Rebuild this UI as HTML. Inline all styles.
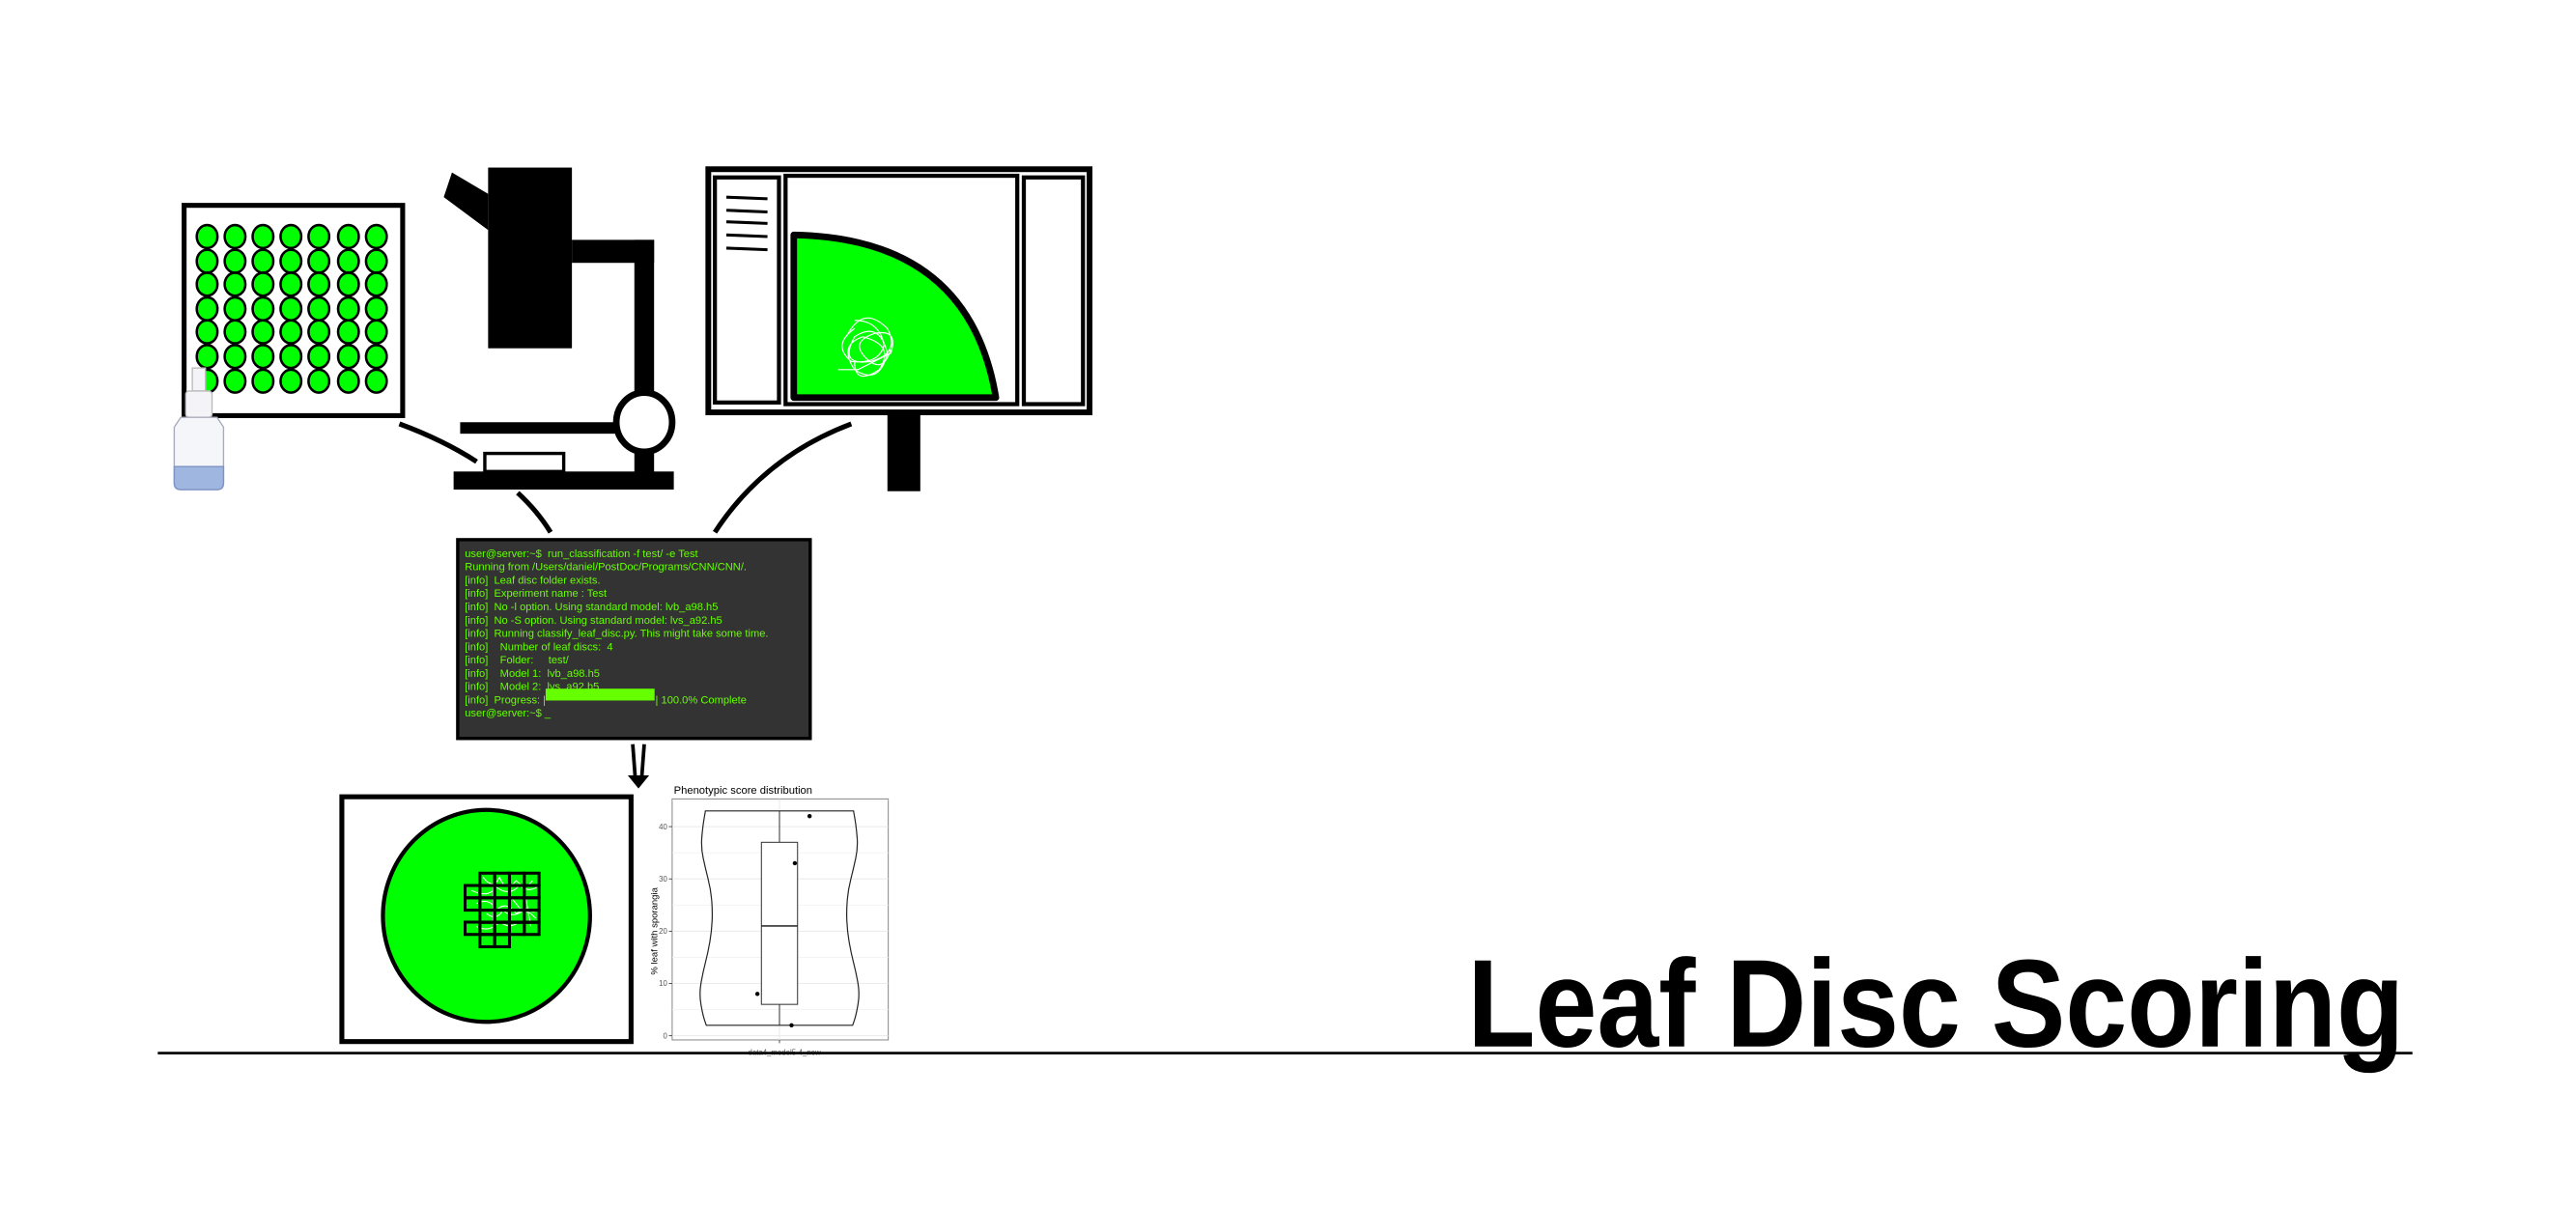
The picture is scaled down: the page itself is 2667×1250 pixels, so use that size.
<!DOCTYPE html>
<html><head><meta charset="utf-8"><style>
html,body{margin:0;padding:0;background:#fff;}
svg{display:block;}
text{font-family:"Liberation Sans",sans-serif;}
</style></head><body>
<svg id="fig" width="2667" height="1250" viewBox="0 0 1567.5 734.7" xmlns="http://www.w3.org/2000/svg">
<rect width="1567.5" height="734.7" fill="#fff"/>
<!-- well plate -->
<g>
<rect x="112" y="125" width="133" height="128" fill="#fff" stroke="#000" stroke-width="3"/>
<g id="wells"></g>
</g>
<!-- spray bottle -->
<g>
<rect x="117" y="224" width="8" height="14" fill="#f4f4f8" stroke="#bbb" stroke-width="0.8"/>
<rect x="113" y="238" width="16" height="16" rx="2" fill="#f4f4f8" stroke="#bbb" stroke-width="0.8"/>
<path d="M110 254 h22 l4 6 v34 q0 4 -4 4 h-22 q-4 0 -4 -4 v-34 z" fill="#f4f6f9" stroke="#aab" stroke-width="0.8"/>
<path d="M106 284 h30 v10 q0 4 -4 4 h-22 q-4 0 -4 -4 z" fill="#9fb6e0" stroke="#7d93c4" stroke-width="0.8"/>
</g>
<!-- microscope -->
<g fill="#000">
<rect x="297" y="102" width="51" height="110"/>
<polygon points="275,105 297,118 297,140 270,120"/>
<rect x="348" y="146" width="50" height="14"/>
<rect x="386" y="146" width="12" height="95"/>
<rect x="280" y="257" width="95" height="7"/>
<rect x="386" y="268" width="12" height="20"/>
<rect x="276" y="287" width="134" height="11"/>
<rect x="295" y="276" width="48" height="11" fill="#fff" stroke="#000" stroke-width="2"/>
<ellipse cx="392" cy="257" rx="17" ry="18" fill="#fff" stroke="#000" stroke-width="4"/>
</g>
<!-- connector curves -->
<g fill="none" stroke="#000" stroke-width="3">
<path d="M243 258 Q270 268 290 281"/>
<path d="M315 300 Q327 311 335 324"/>
<path d="M435 324 Q465 278 518 258"/>
</g>
<!-- monitor -->
<g>
<rect x="540" y="251" width="20" height="48" fill="#000"/>
<rect x="431" y="103" width="232" height="148" fill="#fff" stroke="#000" stroke-width="3.5"/>
<rect x="435" y="108" width="39" height="137" fill="#fff" stroke="#000" stroke-width="2.5"/>
<rect x="478" y="107" width="141" height="139" fill="#fff" stroke="#000" stroke-width="2.5"/>
<rect x="623" y="108" width="36" height="138" fill="#fff" stroke="#000" stroke-width="2.5"/>
<g stroke="#000" stroke-width="1.8">
<line x1="442" y1="120" x2="467" y2="121"/><line x1="442" y1="128" x2="467" y2="129"/>
<line x1="442" y1="135" x2="467" y2="136"/><line x1="442" y1="143" x2="467" y2="144"/>
<line x1="442" y1="151" x2="467" y2="152"/>
</g>
<path d="M483 242 V143 Q590 145 606 242 Z" fill="#00ff00" stroke="#000" stroke-width="4" stroke-linejoin="round"/>
<g fill="none" stroke="#fff" stroke-width="0.7">
<path d="M515 205 q10 -20 25 -5 q8 15 -10 20 q-20 3 -10 -15 q15 -10 20 10 q-5 20 -20 10 q-10 -15 5 -20 q20 5 10 20 q-15 10 -15 -5 M510 225 h12 q10 -5 20 -10 q5 -15 -10 -12 q-15 5 -5 15 q10 10 15 -5 M520 195 q15 0 18 15 q-3 12 -20 10 q-12 -10 2 -20"/>
</g>
</g>
<!-- terminal -->
<g>
<rect x="278.5" y="328.5" width="214.5" height="121" fill="#333" stroke="#000" stroke-width="2"/>
<g id="termtext" fill="#66ff00" font-size="6.55"></g>
<rect x="332" y="419.2" width="66.3" height="7.2" fill="#66ff00"/>
</g>
<!-- arrow -->
<g>
<line x1="385" y1="453" x2="386.5" y2="473" stroke="#000" stroke-width="2.2"/>
<line x1="392" y1="453" x2="390.5" y2="473" stroke="#000" stroke-width="2.2"/>
<polygon points="382,472 395,472 388.5,480" fill="#000"/>
</g>
<!-- leaf disc image -->
<g>
<rect x="208" y="485" width="176" height="149" fill="#fff" stroke="#000" stroke-width="3"/>
<ellipse cx="296" cy="557.5" rx="63" ry="64.5" fill="#00ff00" stroke="#000" stroke-width="2.5"/>
<g fill="none" stroke="#fff" stroke-width="0.6">
<path d="M294 534 q6 8 10 0 q4 10 10 2 q6 6 10 0 M287 542 q10 5 15 -2 q8 6 14 -1 q6 5 12 0 M290 550 q8 -4 12 4 q6 -6 12 2 q6 -4 12 3 M296 556 q6 5 10 -2 q6 6 14 -1 q5 4 8 0 M290 564 q8 4 14 -3 q6 5 12 0 M300 538 v25 M318 536 l5 28 M310 545 l8 10"/>
</g>
<g id="gridcells" fill="none" stroke="#000" stroke-width="1.8"></g>
</g>
<!-- violin/box chart -->
<g id="chart"></g>
<!-- baseline and title -->
<line x1="96" y1="641" x2="1468" y2="641" stroke="#000" stroke-width="1.6"/>
<text x="893" y="637" font-size="76" font-weight="bold" textLength="570" lengthAdjust="spacingAndGlyphs">Leaf Disc Scoring</text>
</svg>
<script>
const NS="http://www.w3.org/2000/svg";
function mk(tag,attrs,parent){const e=document.createElementNS(NS,tag);for(const k in attrs)e.setAttribute(k,attrs[k]);parent.appendChild(e);return e;}
// wells
const wg=document.getElementById('wells');
const wellCols=[126,143,160,177,194,212,229],wellRows=[144,159,173,188,202,217,232];
wellRows.forEach(y=>wellCols.forEach(x=>{const c=mk('ellipse',{cx:x,cy:y,rx:6.3,ry:7,fill:'#00ff00',stroke:'#000','stroke-width':1.5},wg);

}));
// terminal text
const termLines=["user@server:~$  run_classification -f test/ -e Test","Running from /Users/daniel/PostDoc/Programs/CNN/CNN/.","[info]  Leaf disc folder exists.","[info]  Experiment name : Test","[info]  No -l option. Using standard model: lvb_a98.h5","[info]  No -S option. Using standard model: lvs_a92.h5","[info]  Running classify_leaf_disc.py. This might take some time.","[info]    Number of leaf discs:  4","[info]    Folder:     test/","[info]    Model 1:  lvb_a98.h5","[info]    Model 2:  lvs_a92.h5","[info]  Progress: |                                   | 100.0% Complete","user@server:~$ _"];
const tt=document.getElementById('termtext');
termLines.forEach((s,i)=>{const t=mk('text',{x:282.8,y:339.1+i*8.09},tt);t.setAttribute('xml:space','preserve');t.style.whiteSpace='pre';
if(i===11){t.textContent='[info]  Progress: |';const t2=mk('text',{x:398.8,y:339.1+i*8.09},tt);t2.textContent='| 100.0% Complete';

}
else t.textContent=s;

});
// grid cells
const gg=document.getElementById('gridcells');
const cellRows=[[0,4],[-1,5],[-1,5],[0,4],[-1,5],[0,2]];
const rowY=[531.5,539,546.5,554,561.3,568.8];
cellRows.forEach((r,i)=>{for(let c=r[0];c<r[0]+r[1];c++){const e=mk('rect',{x:292+c*9,y:rowY[i],width:9,height:7.5},gg);

}});
</script>
<script>
// chart data
const yTicks=[0,10,20,30,40];
const categories=["data4_model5-4_new"];
const points=[42,33,8,2];
const pointJitter=[0.45,0.23,-0.33,0.18];
const boxStats=[2,6,21,37,43]; // min,q1,median,q3,max
const violinY=[2,4,8,12,16,20,24,28,32,36,40,43];
const violinHalf=[0.82,0.86,0.9,0.86,0.8,0.76,0.75,0.77,0.83,0.88,0.86,0.83];
const ch=document.getElementById('chart');
const P={l:409,r:540.5,t:486.3,b:633};
const yMin=-0.8,yMax=45.3;
const yS=v=>P.b-(v-yMin)/(yMax-yMin)*(P.b-P.t);
const cx=474.3,halfMax=54.3;
const xS=j=>cx+j*halfMax*0.5;
function el(tag,a){return mk(tag,a,ch);}
let r=el('rect',{x:P.l,y:P.t,width:P.r-P.l,height:P.b-P.t,fill:'#fff',stroke:'#888','stroke-width':0.6});


// grid
for(let v=0;v<=45;v+=5){const g=el('line',{x1:P.l,x2:P.r,y1:yS(v),y2:yS(v),stroke:v%10?'#f2f2f2':'#e6e6e6','stroke-width':0.5});

}
const vg=el('line',{x1:cx,x2:cx,y1:P.t,y2:P.b,stroke:'#e6e6e6','stroke-width':0.5});


yTicks.forEach(v=>{const tk=el('line',{x1:P.l-2,x2:P.l,y1:yS(v),y2:yS(v),stroke:'#333','stroke-width':0.5});


const t=el('text',{x:P.l-3,y:yS(v)+1.6,'font-size':4.6,fill:'#555','text-anchor':'end'});t.textContent=v;

});
// violin
let left=[],right=[];
violinY.forEach((v,i)=>{left.push([cx-violinHalf[i]*halfMax,yS(v)]);right.push([cx+violinHalf[i]*halfMax,yS(v)]);});
function smooth(pts){let d='';for(let i=0;i<pts.length;i++){const p=pts[i];if(i===0){d+='L'+p[0]+' '+p[1];continue;}const q=pts[i-1];const my=(q[1]+p[1])/2;d+=` Q${q[0]} ${q[1]} ${(q[0]+p[0])/2} ${my}`;}const l=pts[pts.length-1];return d+' L'+l[0]+' '+l[1];}
const rr=right.slice().reverse();
let d='M'+left[0][0]+' '+left[0][1]+smooth(left).slice(smooth(left).indexOf(' Q'))+' L'+rr[0][0]+' '+rr[0][1]+smooth(rr).slice(smooth(rr).indexOf(' Q'))+' Z';
const vp=el('path',{d:d,fill:'none',stroke:'#222','stroke-width':0.7});


// box
const bw=11;
const wh1=el('line',{x1:cx,x2:cx,y1:yS(boxStats[0]),y2:yS(boxStats[1]),stroke:'#333','stroke-width':0.6});


const wh2=el('line',{x1:cx,x2:cx,y1:yS(boxStats[3]),y2:yS(boxStats[4]),stroke:'#333','stroke-width':0.6});


const bx=el('rect',{x:cx-bw,y:yS(boxStats[3]),width:bw*2,height:yS(boxStats[1])-yS(boxStats[3]),fill:'#fff',stroke:'#333','stroke-width':0.6});


const md=el('line',{x1:cx-bw,x2:cx+bw,y1:yS(boxStats[2]),y2:yS(boxStats[2]),stroke:'#333','stroke-width':1});


points.forEach((v,i)=>{const c=el('circle',{cx:xS(pointJitter[i]*1.5),cy:yS(v),r:1.3,fill:'#000'});

});
const xt=el('line',{x1:cx,x2:cx,y1:P.b,y2:P.b+2,stroke:'#333','stroke-width':0.5});


const xl=el('text',{x:cx+3,y:P.b+9,'font-size':4.6,fill:'#555','text-anchor':'middle'});xl.textContent=categories[0];


const ttl=el('text',{x:410,y:483,'font-size':6.6,fill:'#000'});ttl.textContent='Phenotypic score distribution';


const yl=el('text',{x:0,y:0,'font-size':5.6,fill:'#000','text-anchor':'middle',transform:`translate(400 ${yS(20)}) rotate(-90)`});yl.textContent='% leaf with sporangia';


</script>
</body></html>
